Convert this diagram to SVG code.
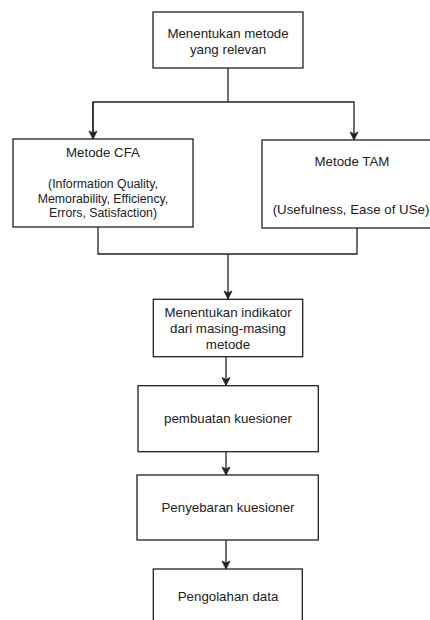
<svg xmlns="http://www.w3.org/2000/svg" width="430" height="620" viewBox="0 0 430 620">
<style>
.box{fill:#ffffff;stroke:#222222;stroke-width:1.3}
.t{font-family:"Liberation Sans",Arial,sans-serif;font-size:13.3px;fill:#222222;text-anchor:middle}
.s{font-size:12.3px}
.ln{fill:none;stroke:#222222;stroke-width:1.3}
</style>
<defs>
<marker id="arr" markerUnits="userSpaceOnUse" markerWidth="10" markerHeight="10" viewBox="0 0 10 10" refX="9" refY="5" orient="auto">
<path d="M1,1 L9,5 L1,9 L3,5 z" fill="#222222" stroke="#222222" stroke-width="0.8"/>
</marker>
</defs>
<rect width="430" height="620" fill="#ffffff"/>
<g id="connectors">
<polyline class="ln" points="228,68 228,102"/>
<polyline class="ln" points="93,139 93,102 354,102 354,140" marker-end="url(#arr)"/>
<line class="ln" x1="93" y1="102" x2="93" y2="139" marker-end="url(#arr)"/>
<polyline class="ln" points="98,227 98,254 357,254 357,228"/>
<line class="ln" x1="228" y1="254" x2="228" y2="299" marker-end="url(#arr)"/>
<line class="ln" x1="226" y1="357" x2="226" y2="385.5" marker-end="url(#arr)"/>
<line class="ln" x1="226" y1="452" x2="226" y2="475" marker-end="url(#arr)"/>
<line class="ln" x1="226" y1="540" x2="226" y2="569" marker-end="url(#arr)"/>
</g>
<g id="n1">
<rect class="box" x="153" y="12" width="150" height="56"/>
<text class="t" x="228" y="37.5">Menentukan metode</text>
<text class="t" x="228" y="54">yang relevan</text>
</g>
<g id="n2">
<rect class="box" x="13" y="139" width="180" height="88"/>
<text class="t" x="103" y="157">Metode CFA</text>
<text class="t s" x="103" y="187.5">(Information Quality,</text>
<text class="t s" x="103" y="202.5">Memorability, Efficiency,</text>
<text class="t s" x="103" y="217">Errors, Satisfaction)</text>
</g>
<g id="n3">
<rect class="box" x="262" y="140" width="182" height="88"/>
<text class="t" x="352" y="165.5">Metode TAM</text>
<text class="t" x="351" y="214">(Usefulness, Ease of USe)</text>
</g>
<g id="n4">
<rect class="box" x="153.3" y="299.3" width="149.4" height="57.4"/>
<text class="t" x="228" y="316.5">Menentukan indikator</text>
<text class="t" x="228" y="332.5">dari masing-masing</text>
<text class="t" x="228" y="349">metode</text>
</g>
<g id="n5">
<rect class="box" x="138" y="385.7" width="180.3" height="66"/>
<text class="t" x="228" y="423">pembuatan kuesioner</text>
</g>
<g id="n6">
<rect class="box" x="137" y="475" width="181.3" height="65"/>
<text class="t" x="228" y="512">Penyebaran kuesioner</text>
</g>
<g id="n7">
<rect class="box" x="153.3" y="569" width="149" height="66"/>
<text class="t" x="228" y="601">Pengolahan data</text>
</g>
</svg>
